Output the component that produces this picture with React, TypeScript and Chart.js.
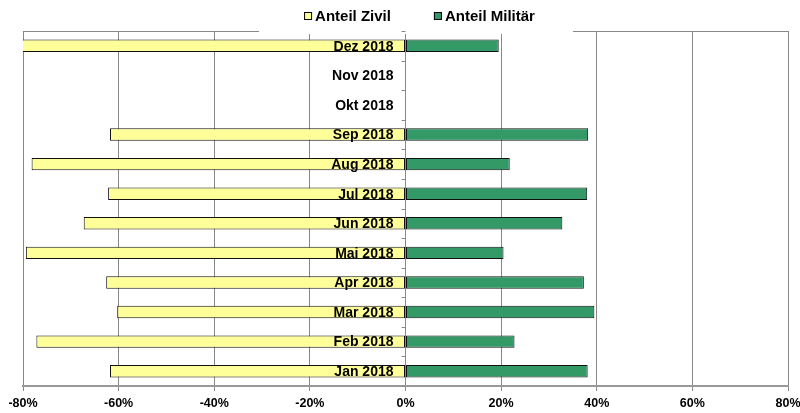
import React, { useEffect, useRef } from "react";
import { Chart, registerables } from "chart.js";

Chart.register(...registerables);

const months = ["Jan 2018", "Feb 2018", "Mar 2018", "Apr 2018", "Mai 2018", "Jun 2018", "Jul 2018", "Aug 2018", "Sep 2018", "Okt 2018", "Nov 2018", "Dez 2018"];
const anteilZivil = [-61.8, -77.2, -60.3, -62.6, -79.4, -67.3, -62.2, -78.2, -61.8, null, null, -80.5];
const anteilMilitaer = [38.1, 22.8, 39.5, 37.3, 20.5, 32.8, 38.0, 21.8, 38.2, null, null, 19.5];
const seriesNames = ["Anteil Zivil", "Anteil Militär"];
const xTicks = [-80, -60, -40, -20, 0, 20, 40, 60, 80];

const FONT = "'Liberation Sans', Arial, sans-serif";

function legendLayout(chart: any) {
  const ctx = chart.ctx;
  ctx.save();
  ctx.font = `bold 15px ${FONT}`;
  const box = 8;
  const gapBoxText = 3;
  const gapItems = 43;
  const widths = seriesNames.map((n) => box + gapBoxText + ctx.measureText(n).width);
  ctx.restore();
  const total = widths.reduce((a, b) => a + b, 0) + gapItems * (widths.length - 1);
  const cx = (chart.chartArea.left + chart.chartArea.right) / 2 + 14;
  return { widths, total, x0: cx - total / 2, box, gapBoxText, gapItems };
}

const decor = {
  id: "decor",
  beforeDatasetsDraw(chart: any) {
    const { ctx, chartArea } = chart;
    ctx.save();
    ctx.strokeStyle = "#888";
    ctx.lineWidth = 1;
    ctx.beginPath();
    ctx.moveTo(chartArea.left, chartArea.top + 0.5);
    ctx.lineTo(chartArea.right, chartArea.top + 0.5);
    ctx.stroke();
    const L = legendLayout(chart);
    ctx.fillStyle = "#fff";
    ctx.fillRect(L.x0 - 45, 0, L.total + 45 + 38, chartArea.top + 3);
    ctx.restore();
  },
  afterDatasetsDraw(chart: any) {
    const { ctx, scales } = chart;
    const xs = scales.x;
    const ys = scales.y;
    const x0 = xs.getPixelForValue(0);
    ctx.save();
    ctx.strokeStyle = "#888";
    ctx.lineWidth = 1;
    for (let i = 0; i <= months.length; i++) {
      const yb = ys.getPixelForValue(i - 0.5);
      ctx.beginPath();
      ctx.moveTo(x0 - 4, Math.round(yb) + 0.5);
      ctx.lineTo(x0, Math.round(yb) + 0.5);
      ctx.stroke();
    }
    ctx.fillStyle = "#000";
    ctx.font = `bold 14px ${FONT}`;
    ctx.textAlign = "right";
    ctx.textBaseline = "middle";
    months.forEach((m, i) => {
      const y = ys.getPixelForValue(i);
      ctx.fillText(m, x0 - 12, y + 1);
    });
    ctx.restore();
  },
  afterDraw(chart: any) {
    const { ctx } = chart;
    const ds = chart.data.datasets;
    const L = legendLayout(chart);
    ctx.save();
    ctx.font = `bold 15px ${FONT}`;
    ctx.textBaseline = "middle";
    ctx.textAlign = "left";
    let x = L.x0;
    const y = 16;
    ds.forEach((d: any, i: number) => {
      ctx.fillStyle = d.backgroundColor;
      ctx.fillRect(x, y - 4, L.box, L.box);
      ctx.strokeStyle = "#000";
      ctx.lineWidth = 1;
      ctx.strokeRect(x + 0.5, y - 3.5, L.box - 1, L.box - 1);
      ctx.fillStyle = "#000";
      ctx.fillText(d.label, x + L.box + L.gapBoxText, y + 1);
      x += L.widths[i] + L.gapItems;
    });
    ctx.restore();
  },
};

export default function App() {
  const ref = useRef<HTMLCanvasElement | null>(null);
  useEffect(() => {
    document.body.style.margin = "0";
    const canvas = ref.current!;
    const chart = new Chart(canvas, {
      type: "bar",
      data: {
        labels: months,
        datasets: [
          {
            label: seriesNames[0],
            data: anteilZivil as any,
            backgroundColor: "#FFFF99",
            borderColor: "#111",
            borderWidth: 1,
            borderSkipped: false,
            barPercentage: 0.42,
            categoryPercentage: 1,
          },
          {
            label: seriesNames[1],
            data: anteilMilitaer as any,
            backgroundColor: "#339966",
            borderColor: "#111",
            borderWidth: 1,
            borderSkipped: false,
            barPercentage: 0.42,
            categoryPercentage: 1,
          },
        ],
      },
      options: {
        indexAxis: "y",
        animation: false,
        responsive: false,
        devicePixelRatio: 1,
        layout: { padding: { top: 31, left: 0, right: 0, bottom: 0 } },
        plugins: { legend: { display: false }, tooltip: { enabled: false } },
        scales: {
          x: {
            stacked: true,
            min: -80,
            max: 80,
            afterBuildTicks: (s: any) => {
              s.ticks = xTicks.map((v) => ({ value: v }));
            },
            afterFit: (s: any) => {
              s.paddingLeft = 23;
              s.paddingRight = 12;
              s.height = 27;
            },
            ticks: {
              callback: (v: any) => `${v}%`,
              color: "#000",
              font: { family: FONT, size: 12.5, weight: "bold" },
              padding: 5,
              maxRotation: 0,
              autoSkip: false,
            },
            grid: { color: "#888", lineWidth: 1, tickLength: 5, drawOnChartArea: true },
            border: { color: "#999", width: 2 },
          },
          y: {
            stacked: true,
            reverse: true,
            display: false,
          },
        },
      },
      plugins: [decor],
    });
    return () => chart.destroy();
  }, []);
  return (
    <div style={{ width: 800, height: 413 }}>
      <canvas ref={ref} width={800} height={413} style={{ display: "block", width: 800, height: 413 }} />
    </div>
  );
}
